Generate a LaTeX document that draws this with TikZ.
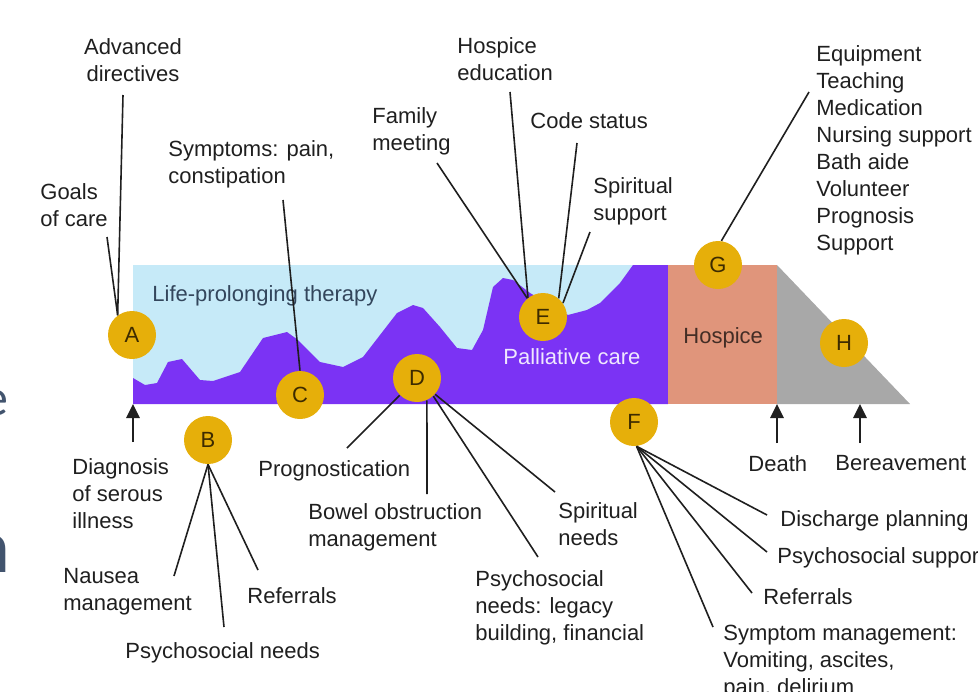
\documentclass[tikz,border=0pt]{standalone}
\usepackage{fontspec}
\setmainfont{Liberation Sans}
\newfontfamily\slidefont{Carlito}
\usetikzlibrary{arrows.meta}
\definecolor{TherapyBlue}{HTML}{C6EAF8}
\definecolor{PalliPurple}{HTML}{7B33F4}
\definecolor{HospiceSalmon}{HTML}{E0957B}
\definecolor{GriefGray}{HTML}{A8A8A8}
\definecolor{StageGold}{HTML}{E6AF0A}
\definecolor{StageInk}{HTML}{3D2B00}
\definecolor{Ink}{HTML}{1F1F1F}
\definecolor{SlateText}{HTML}{33465C}
\definecolor{SlideGray}{HTML}{42546E}
\tikzset{
  stagept/.style={
    circle,
    fill=StageGold,
    minimum size=24pt,
    inner sep=0pt,
    text=StageInk,
    font=\fontsize{11}{13}\selectfont
  },
  notelabel/.style={
    anchor=north west,
    inner sep=0pt,
    align=left,
    text=Ink,
    font=\fontsize{11}{13.5}\selectfont
  },
  bandlabel/.style={notelabel},
  leader/.style={draw=Ink, line width=0.8pt},
  eventarrow/.style={draw=Ink, line width=1.4pt, -{Triangle[length=7pt,width=6.5pt]}}
}

\begin{document}
\begin{tikzpicture}[x=0.5pt, y=-0.5pt]
  \useasboundingbox (0,0) rectangle (978,691);
  \clip (0,0) rectangle (978,691);

  % care bands
  \fill[TherapyBlue] (133,265) rectangle (668,404);
  \fill[PalliPurple] (133,378) -- (145,385) -- (157,383) -- (168,362) -- (182,359)
    -- (200,380) -- (213,381) -- (240,372) -- (263,338) -- (287,332) -- (298,340)
    -- (320,362) -- (343,367) -- (363,357) -- (397,313) -- (413,305) -- (423,308)
    -- (440,327) -- (457,348) -- (472,350) -- (483,330) -- (493,287) -- (503,278)
    -- (513,280) -- (530,293) -- (568,315) -- (587,310) -- (600,303) -- (620,283)
    -- (633,265) -- (668,265) -- (668,404) -- (133,404) -- cycle;
  \fill[HospiceSalmon] (668,265) rectangle (777,404);
  \fill[GriefGray] (777,265) -- (910,404) -- (777,404) -- cycle;

  \node[bandlabel, text=SlateText] (lpt) at (152,285) {Life-prolonging therapy};
  \node[bandlabel, text=PalliPurple!12!white] (pal) at (503,348) {Palliative care};
  \node[bandlabel, text=HospiceSalmon!30!black] (hos) at (683,327) {Hospice};

  % fragments of slide text at the left edge
  \node[anchor=base east, inner sep=0pt, text=SlideGray,
        font=\slidefont\fontsize{26}{30}\selectfont] (fragE) at (9,415) {e};
  \node[anchor=base east, inner sep=0pt, text=SlideGray,
        font=\slidefont\fontsize{38}{44}\selectfont] (fragN) at (11,572) {n};

  % notes above the bar
  \node[notelabel, align=center, anchor=north] (advdir) at (133,38) {Advanced\\directives};
  \node[notelabel] (goals) at (40,183) {Goals\\of care};
  \node[notelabel] (sympt) at (168,140) {Symptoms: pain,\\constipation};
  \node[notelabel] (hosped) at (457,37) {Hospice\\education};
  \node[notelabel] (family) at (372,107) {Family\\meeting};
  \node[notelabel] (code) at (530,112) {Code status};
  \node[notelabel] (spsupp) at (593,177) {Spiritual\\support};
  \node[notelabel] (hoslist) at (816,45) {Equipment\\Teaching\\Medication\\Nursing support\\Bath aide\\Volunteer\\Prognosis\\Support};

  % notes below the bar
  \node[notelabel] (diag) at (72,458) {Diagnosis\\of serous\\illness};
  \node[notelabel] (nausea) at (63,568) {Nausea\\management};
  \node[notelabel] (psyB) at (125,642) {Psychosocial needs};
  \node[notelabel] (refB) at (247,587) {Referrals};
  \node[notelabel] (prog) at (258,460) {Prognostication};
  \node[notelabel] (bowel) at (308,503) {Bowel obstruction\\management};
  \node[notelabel] (spneeds) at (558,502) {Spiritual\\needs};
  \node[notelabel] (legacy) at (475,570) {Psychosocial\\needs: legacy\\building, financial};
  \node[notelabel] (death) at (748,455) {Death};
  \node[notelabel] (bereave) at (835,455) {Bereavement};
  \node[notelabel] (discharge) at (780,510) {Discharge planning};
  \node[notelabel] (psyF) at (777,547) {Psychosocial support};
  \node[notelabel] (refF) at (763,588) {Referrals};
  \node[notelabel] (symF) at (723,625) {Symptom management:\\Vomiting, ascites,\\pain, delirium};

  % stage markers
  \foreach \n/\x/\y in {A/132/335, B/208/440, C/300/395, D/417/378,
                        E/543/317, F/634/422, G/718/265, H/844/343}
    \node[stagept] (\n) at (\x,\y) {\n};

  % free ends of the leaders
  \coordinate (advdir-e) at (123,95);
  \coordinate (goals-e) at (107,237);
  \coordinate (sympt-e) at (283,200);
  \coordinate (hosped-e) at (510,92);
  \coordinate (family-e) at (437,163);
  \coordinate (code-e) at (577,143);
  \coordinate (spsupp-e) at (590,232);
  \coordinate (hoslist-e) at (809,92);
  \coordinate (nausea-e) at (174,576);
  \coordinate (psyB-e) at (224,627);
  \coordinate (refB-e) at (258,570);
  \coordinate (prog-e) at (347,448);
  \coordinate (bowel-e) at (427,494);
  \coordinate (legacy-e) at (538,557);
  \coordinate (spneeds-e) at (555,492);
  \coordinate (discharge-e) at (767,515);
  \coordinate (psyF-e) at (767,552);
  \coordinate (refF-e) at (752,593);
  \coordinate (symF-e) at (713,627);

  \foreach \from/\to in {advdir-e/A.126, goals-e/A.126, sympt-e/C.north,
      hosped-e/E.128, family-e/E.130, code-e/E.50, spsupp-e/E.35, hoslist-e/G.82,
      nausea-e/B.south, psyB-e/B.south, refB-e/B.south,
      prog-e/D.225, bowel-e/D.294, legacy-e/D.312, spneeds-e/D.318,
      discharge-e/F.276, psyF-e/F.276, refF-e/F.276, symF-e/F.276}
    \draw[leader] (\from) -- (\to);

  % events on the time line
  \coordinate (onset) at (133,404);
  \coordinate (death-pt) at (777,404);
  \coordinate (bereave-pt) at (860,404);
  \draw[eventarrow, shorten <=8pt] (onset |- diag.north) -- (onset);
  \draw[eventarrow, shorten <=6pt] (death-pt |- death.north) -- (death-pt);
  \draw[eventarrow, shorten <=6pt] (bereave-pt |- bereave.north) -- (bereave-pt);
\end{tikzpicture}
\end{document}
